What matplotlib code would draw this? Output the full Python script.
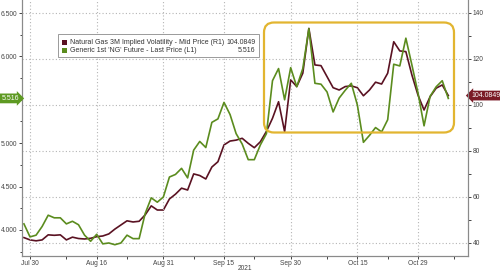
import matplotlib.pyplot as plt
import matplotlib.patches as mpatches
import matplotlib.transforms as mtrans
from matplotlib.ticker import MultipleLocator, FixedLocator, FuncFormatter
import numpy as np
import pandas as pd

plt.rcParams['font.family'] = ['Liberation Sans', 'DejaVu Sans']

# trading days (Labor Day skipped), axis runs a few days past the data
axis_dates = pd.bdate_range('2021-07-29', '2021-11-10')
axis_dates = axis_dates[axis_dates != pd.Timestamp('2021-09-06')]

# Generic 1st 'NG' future, last price (left axis)
ng_price = [4.07, 3.92, 3.94, 4.04, 4.17, 4.14, 4.14, 4.07, 4.10, 4.06,
            3.94, 3.87, 3.95, 3.84, 3.85, 3.83, 3.85, 3.94, 3.90, 3.90,
            4.19, 4.37, 4.32, 4.38, 4.61, 4.64, 4.71, 4.60, 4.92, 5.02,
            4.95, 5.24, 5.28, 5.47, 5.33, 5.11, 4.99, 4.81, 4.81, 4.98,
            5.11, 5.72, 5.86, 5.50, 5.87, 5.65, 5.86, 6.32, 5.69, 5.68,
            5.59, 5.36, 5.52, 5.61, 5.69, 5.44, 5.01, 5.09, 5.18, 5.13,
            5.27, 5.91, 5.89, 6.21, 5.90, 5.58, 5.20, 5.54, 5.65, 5.72,
            5.516]
# Natural gas 3M implied volatility, mid price (right axis)
ng_vol = [42.3, 41.3, 40.9, 41.3, 43.5, 43.3, 43.5, 41.3, 42.5, 41.9,
          41.7, 42.0, 42.7, 43.0, 43.9, 46.0, 47.8, 49.6, 49.1, 49.4,
          52.2, 56.1, 54.3, 54.3, 59.1, 61.2, 63.8, 63.0, 70.0, 69.3,
          67.8, 73.0, 75.3, 82.6, 84.3, 84.7, 85.5, 83.3, 81.4, 84.0,
          88.5, 94.2, 101.4, 88.4, 110.9, 108.0, 113.8, 133.3, 117.4, 117.1,
          112.3, 107.5, 106.5, 108.0, 108.3, 107.5, 104.0, 106.5, 109.9, 109.1,
          113.8, 127.5, 123.5, 123.2, 113.0, 104.3, 97.8, 103.6, 107.3, 108.7,
          104.0849]

tick_dates = ['2021-07-30', '2021-08-16', '2021-08-31', '2021-09-15',
              '2021-09-30', '2021-10-15', '2021-10-29']
tick_labels = ['Jul 30', 'Aug 16', 'Aug 31', 'Sep 15', 'Sep 30', 'Oct 15', 'Oct 29']
minor_dates = ['2021-08-09', '2021-08-23', '2021-09-08', '2021-09-22',
               '2021-10-08', '2021-10-22', '2021-11-08']

legend_labels = ["Natural Gas 3M Implied Volatility - Mid Price (R1)",
                 "Generic 1st 'NG' Future - Last Price (L1)"]
legend_values = ["104.0849", "5.516"]

green = '#5b8c1e'
maroon = '#5a1222'
grid_c = '#b5b5b5'
spine_c = '#8a8a8a'
fs = 4.8

fig = plt.figure(figsize=(5, 2.73), dpi=100)
ax = fig.add_axes([0.044, 0.0623, 0.892, 0.9377])
ax2 = ax.twinx()

x = np.arange(len(ng_price))
ax2.plot(x, ng_vol, color=maroon, lw=1.2)
ax.plot(x, ng_price, color=green, lw=1.2)
ax.set_zorder(ax2.get_zorder() + 1)
ax.patch.set_visible(False)

ax.set_xlim(-0.32, 73.25)
ax.set_ylim(3.70, 6.65)
ax2.set_ylim(34.3, 145.65)

# x axis
ax.xaxis.set_major_locator(FixedLocator([axis_dates.get_loc(pd.Timestamp(d)) for d in tick_dates]))
ax.set_xticklabels(tick_labels)
ax.xaxis.set_minor_locator(FixedLocator([axis_dates.get_loc(pd.Timestamp(d)) for d in minor_dates]))
ax.grid(axis='x', which='major', linestyle=(0, (1, 2)), color=grid_c, lw=0.8)

# left axis (5.500 sits under the last-price tag)
ax.yaxis.set_major_locator(MultipleLocator(0.5))
ax.yaxis.set_minor_locator(MultipleLocator(0.25))
ax.yaxis.set_major_formatter(FuncFormatter(lambda v, p: '' if abs(v - 5.5) < 1e-6 else '%.3f' % v))

# right axis
ax2.yaxis.set_major_locator(MultipleLocator(20))
ax2.yaxis.set_minor_locator(MultipleLocator(10))
ax2.grid(axis='y', which='major', linestyle=(0, (1, 2)), color=grid_c, lw=0.8)

for a in (ax, ax2):
    a.tick_params(which='both', labelsize=fs, colors='#444444', length=2.2, width=0.7, pad=1)
    a.tick_params(which='minor', length=1.8)
    a.spines['top'].set_visible(False)
    for s in ('left', 'right', 'bottom'):
        a.spines[s].set_color(spine_c)
        a.spines[s].set_linewidth(0.8)

fig.text(0.49, 0.004, '2021', fontsize=fs, color='#444444', ha='center', va='bottom')

# last value tags
ax.text(-0.007, ng_price[-1], legend_values[1], transform=mtrans.blended_transform_factory(ax.transAxes, ax.transData),
        ha='right', va='center', fontsize=5, color='white', zorder=10, clip_on=False,
        bbox=dict(boxstyle='rarrow,pad=0.2', fc='#5e9a22', ec='none'))
ax2.text(1.007, ng_vol[-1], legend_values[0], transform=mtrans.blended_transform_factory(ax2.transAxes, ax2.transData),
         ha='left', va='center', fontsize=5, color='white', zorder=10, clip_on=False,
         bbox=dict(boxstyle='larrow,pad=0.2', fc='#7a1a26', ec='none'))

# legend box (inches from lower left)
ti = fig.dpi_scale_trans
fig.patches.append(mpatches.Rectangle((0.58, 2.16), 2.01, 0.23, transform=ti,
                                      fc='white', ec='#9a9a9a', lw=0.7, zorder=5))
for row, (lab, val, c) in enumerate(zip(legend_labels, legend_values, [maroon, green])):
    yc = 2.305 - row * 0.08
    fig.patches.append(mpatches.Rectangle((0.62, yc - 0.025), 0.05, 0.05, transform=ti,
                                          fc=c, ec='none', zorder=6))
    fig.text(0.705, yc, lab, transform=ti, fontsize=5.0, color='#333333', va='center', ha='left', zorder=6)
    fig.text(2.555, yc, val, transform=ti, fontsize=5.0, color='#333333', va='center', ha='right', zorder=6)

# highlight box
fig.patches.append(mpatches.FancyBboxPatch((2.64, 1.405), 1.90, 1.10, transform=ti,
                                           boxstyle='round,pad=0,rounding_size=0.1',
                                           fc='none', ec='#e2b530', lw=1.6, zorder=7))

fig.savefig('out.png', dpi=100)
